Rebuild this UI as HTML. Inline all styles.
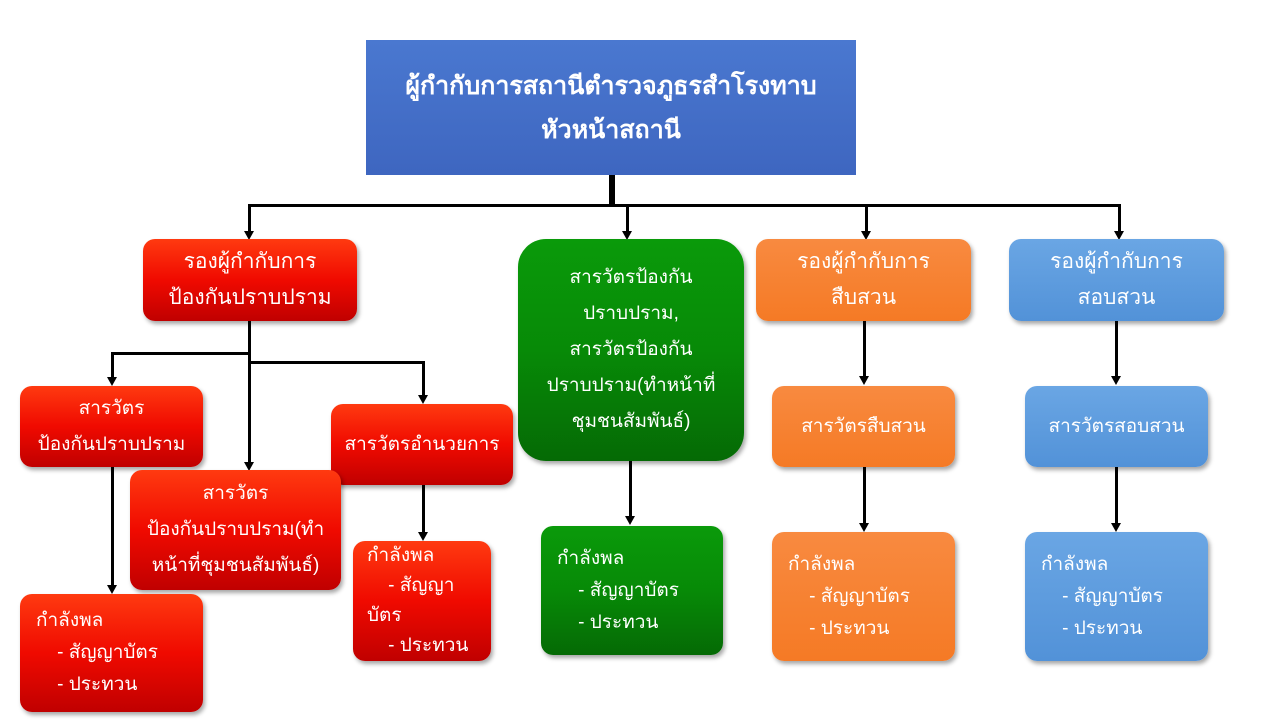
<!DOCTYPE html>
<html><head><meta charset="utf-8">
<style>
body{margin:0;width:1280px;height:720px;background:#fff;position:relative;overflow:hidden;font-family:"Liberation Sans","DejaVu Sans","Noto Sans CJK SC",sans-serif;}
.b{position:absolute;box-sizing:border-box;color:#fff;display:flex;flex-direction:column;justify-content:center;align-items:center;text-align:center;border-radius:12px;box-shadow:2px 3px 4px rgba(0,0,0,0.35);font-size:19px;line-height:36px;}
.l{align-items:flex-start;text-align:left;padding-left:16px;line-height:32px;}
.red{background:linear-gradient(#ff3a10,#f00a00 50%,#c00000);}
.grn{background:linear-gradient(#0a9a0a,#078a07 50%,#056a05);}
.org{background:linear-gradient(#f88a40,#f57a25);}
.blu{background:linear-gradient(#6aa6e4,#5292d8);}
.ln{position:absolute;background:#000;}
.ar{position:absolute;width:0;height:0;border-left:5px solid transparent;border-right:5px solid transparent;border-top:9px solid #000;}
</style></head><body>
<div class="b" style="left:366px;top:40px;width:490px;height:135px;border-radius:0;background:linear-gradient(#4a78d0,#3e66c0);font-size:25px;font-weight:bold;line-height:44px;box-shadow:none;"><div>ผู้กำกับการสถานีตำรวจภูธรสำโรงทาบ</div><div>หัวหน้าสถานี</div></div>

<div class="ln" style="left:609px;top:175px;width:6px;height:32px"></div>
<div class="ln" style="left:248px;top:204px;width:873px;height:3px"></div>
<div class="ln" style="left:248px;top:204px;width:3px;height:28px"></div><div class="ar" style="left:244px;top:231px"></div>
<div class="ln" style="left:626px;top:204px;width:3px;height:28px"></div><div class="ar" style="left:622px;top:231px"></div>
<div class="ln" style="left:865px;top:204px;width:3px;height:28px"></div><div class="ar" style="left:861px;top:231px"></div>
<div class="ln" style="left:1118px;top:204px;width:3px;height:28px"></div><div class="ar" style="left:1114px;top:231px"></div>

<div class="b red" style="left:143px;top:239px;width:214px;height:82px;font-size:21px"><div>รองผู้กำกับการ</div><div>ป้องกันปราบปราม</div></div>
<div class="b grn" style="left:518px;top:239px;width:226px;height:222px;border-radius:28px;line-height:36px"><div>สารวัตรป้องกัน</div><div>ปราบปราม,</div><div>สารวัตรป้องกัน</div><div>ปราบปราม(ทำหน้าที่</div><div>ชุมชนสัมพันธ์)</div></div>
<div class="b org" style="left:756px;top:239px;width:215px;height:82px;font-size:21px"><div>รองผู้กำกับการ</div><div>สืบสวน</div></div>
<div class="b blu" style="left:1009px;top:239px;width:215px;height:82px;font-size:21px"><div>รองผู้กำกับการ</div><div>สอบสวน</div></div>

<div class="ln" style="left:248px;top:321px;width:3px;height:142px"></div><div class="ar" style="left:244px;top:462px"></div>
<div class="ln" style="left:111px;top:352px;width:140px;height:3px"></div>
<div class="ln" style="left:111px;top:352px;width:3px;height:26px"></div><div class="ar" style="left:107px;top:377px"></div>
<div class="ln" style="left:248px;top:361px;width:177px;height:3px"></div>
<div class="ln" style="left:422px;top:361px;width:3px;height:35px"></div><div class="ar" style="left:418px;top:395px"></div>
<div class="ln" style="left:111px;top:467px;width:3px;height:119px"></div><div class="ar" style="left:107px;top:585px"></div>
<div class="ln" style="left:422px;top:485px;width:3px;height:48px"></div><div class="ar" style="left:418px;top:532px"></div>

<div class="b red" style="left:20px;top:386px;width:183px;height:81px"><div>สารวัตร</div><div>ป้องกันปราบปราม</div></div>
<div class="b red" style="left:331px;top:404px;width:182px;height:81px"><div>สารวัตรอำนวยการ</div></div>
<div class="b red" style="left:130px;top:470px;width:211px;height:120px"><div>สารวัตร</div><div>ป้องกันปราบปราม(ทำ</div><div>หน้าที่ชุมชนสัมพันธ์)</div></div>
<div class="b red l" style="left:20px;top:594px;width:183px;height:118px"><div>กำลังพล</div><div>&nbsp;&nbsp;&nbsp;&nbsp;- สัญญาบัตร</div><div>&nbsp;&nbsp;&nbsp;&nbsp;- ประทวน</div></div>
<div class="b red l" style="left:353px;top:541px;width:138px;height:120px;padding-left:14px;line-height:30px"><div>กำลังพล</div><div>&nbsp;&nbsp;&nbsp;&nbsp;- สัญญา</div><div>บัตร</div><div>&nbsp;&nbsp;&nbsp;&nbsp;- ประทวน</div></div>

<div class="ln" style="left:629px;top:461px;width:3px;height:56px"></div><div class="ar" style="left:625px;top:516px"></div>
<div class="b grn l" style="left:541px;top:526px;width:182px;height:129px"><div>กำลังพล</div><div>&nbsp;&nbsp;&nbsp;&nbsp;- สัญญาบัตร</div><div>&nbsp;&nbsp;&nbsp;&nbsp;- ประทวน</div></div>

<div class="ln" style="left:863px;top:321px;width:3px;height:56px"></div><div class="ar" style="left:859px;top:376px"></div>
<div class="b org" style="left:772px;top:386px;width:183px;height:81px"><div>สารวัตรสืบสวน</div></div>
<div class="ln" style="left:863px;top:467px;width:3px;height:57px"></div><div class="ar" style="left:859px;top:523px"></div>
<div class="b org l" style="left:772px;top:532px;width:183px;height:129px"><div>กำลังพล</div><div>&nbsp;&nbsp;&nbsp;&nbsp;- สัญญาบัตร</div><div>&nbsp;&nbsp;&nbsp;&nbsp;- ประทวน</div></div>

<div class="ln" style="left:1115px;top:321px;width:3px;height:56px"></div><div class="ar" style="left:1111px;top:376px"></div>
<div class="b blu" style="left:1025px;top:386px;width:183px;height:81px"><div>สารวัตรสอบสวน</div></div>
<div class="ln" style="left:1115px;top:467px;width:3px;height:57px"></div><div class="ar" style="left:1111px;top:523px"></div>
<div class="b blu l" style="left:1025px;top:532px;width:183px;height:129px"><div>กำลังพล</div><div>&nbsp;&nbsp;&nbsp;&nbsp;- สัญญาบัตร</div><div>&nbsp;&nbsp;&nbsp;&nbsp;- ประทวน</div></div>
</body></html>
